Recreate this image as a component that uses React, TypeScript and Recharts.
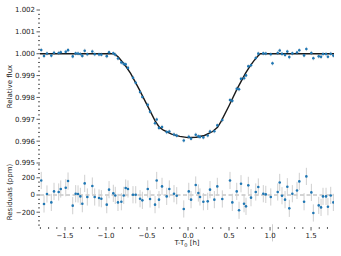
import React from 'react';
import {
  ComposedChart,
  Scatter,
  Line,
  XAxis,
  YAxis,
  ErrorBar,
  ReferenceLine,
  ReferenceArea,
} from 'recharts';

// ---- data ----
const times = [-1.79, -1.756, -1.72, -1.667, -1.634, -1.577, -1.552, -1.491, -1.463, -1.406, -1.37, -1.341, -1.313, -1.289, -1.26, -1.228, -1.167, -1.138, -1.085, -1.057, -0.991, -0.963, -0.911, -0.887, -0.854, -0.813, -0.784, -0.76, -0.732, -0.671, -0.638, -0.585, -0.557, -0.491, -0.463, -0.402, -0.382, -0.354, -0.317, -0.26, -0.228, -0.171, -0.138, -0.052, 0.009, 0.037, 0.094, 0.126, 0.146, 0.187, 0.24, 0.268, 0.321, 0.357, 0.418, 0.512, 0.54, 0.594, 0.622, 0.646, 0.683, 0.707, 0.735, 0.768, 0.826, 0.857, 0.918, 0.948, 1.009, 1.03, 1.094, 1.118, 1.146, 1.183, 1.211, 1.235, 1.272, 1.329, 1.357, 1.415, 1.443, 1.504, 1.528, 1.594, 1.622, 1.646, 1.683, 1.706, 1.74, 1.772];

const fluxes = [1.000169, 0.999896, 1.000012, 0.999914, 1.000042, 1.000035, 1.00007, 1.000085, 1.000162, 0.999876, 1.000015, 1.000012, 0.999984, 0.999899, 1.000135, 0.999977, 1.000104, 0.999977, 0.999965, 0.999957, 0.999888, 1.000062,
  1.000019, 0.999955, 0.999784, 0.999602, 0.999535, 0.999511, 0.99935, 0.998903, 0.998673, 0.998247, 0.998018, 0.99766, 0.997344, 0.996818, 0.996989, 0.996606, 0.99665, 0.996414, 0.99644, 0.996305, 0.996252, 0.996028, 0.996202, 0.996113, 0.996295, 0.996223, 0.996194, 0.996172, 0.996256, 0.996442, 0.996456, 0.99672, 0.996964, 0.997879, 0.997844, 0.998392, 0.998372, 0.998851, 0.998879, 0.999008, 0.999422, 0.999469, 0.999805, 1.000003,
  1.000015, 1.000007, 0.999977, 0.99956, 1.000035, 1.000146, 0.999992, 0.999946, 1.000096, 0.999845, 1.000015, 1.000053, 1.000158, 0.999922, 1.000216, 1.00003, 0.999791, 0.999879, 0.999856, 0.999984, 0.999984, 0.999864, 0.999995, 0.999914];

const residuals = [169, -104, 12, -86, 42, 35, 70, 85, 162, -124, 15, 12, -16, -101, 135, -23, 104, -23, -35, -43, -112, 62, 19, -5, -86, -78, -5, 81, 70, 3, 3, -43, -62, 70, -46, -112, 169, -54, 100, -16, 70, 15, -8, -162, 42, -54, 116, 23, -23, -78, -74, 62, -54, 100, -46, 169, -86, 42, -178, 131, -101, -132, 112, -31, 35, 93, 15, 7, -23, -440, 35, 146, -8, -54, 96, -155, 15, 53, 158, -78, 216, 30, -209, -121, -144, -16, -16, -136, -5, -86];

const fluxErr = 0.0001;
const residErr = 100;

const modelTimes = [-1.805, -0.9, -0.85, -0.8, -0.75, -0.7, -0.6, -0.5, -0.4, -0.35, -0.3, -0.2, -0.1, 0, 0.1, 0.2, 0.3, 0.36, 0.4, 0.5, 0.6, 0.7, 0.75, 0.8, 0.85, 0.88, 1.78];
const modelFlux = [1, 1, 0.99985, 0.99962, 0.99938, 0.9991, 0.9984, 0.99766, 0.99692, 0.99664, 0.9965, 0.99632, 0.99622, 0.99616, 0.99618, 0.99626, 0.99644, 0.99663, 0.99688, 0.99762, 0.9984, 0.9991, 0.9994, 0.99966, 0.99988, 1, 1];

const xMajor = [-1.5, -1.0, -0.5, 0.0, 0.5, 1.0, 1.5];
const fluxMajor = [0.995, 0.996, 0.997, 0.998, 0.999, 1.0, 1.001, 1.002];
const residMajor = [-200, 0, 200];

// ---- derived tables ----
const fluxData = times.map((t, i) => ({ t, flux: fluxes[i], err: fluxErr }));
const residData = times.map((t, i) => ({ t, res: residuals[i], err: residErr }));
const modelData = modelTimes.map((t, i) => ({ t, flux: modelFlux[i] }));

const xTicks: number[] = [];
for (let i = -18; i <= 17; i++) xTicks.push(i / 10);
const fluxTicks: number[] = [];
for (let i = 0; i <= 35; i++) fluxTicks.push(Math.round(9950 + 2 * i) / 10000);
const residTicks: number[] = [];
for (let i = -7; i <= 7; i++) residTicks.push(i * 50);

const FONT = '"DejaVu Sans", Verdana, sans-serif';
const BLUE = '#1f77b4';
const X_DOMAIN: [number, number] = [-1.805, 1.78];

const fmtMinus = (s: string) => s.replace('-', '\u2212');
const isMajor = (majors: number[], v: number) => majors.some((m) => Math.abs(m - v) < 1e-7);

const makeLeftTick = (majors: number[], fmt: (v: number) => string) => (props: any) => {
  const { x, y, payload } = props;
  const v = payload.value;
  const major = isMajor(majors, v);
  return (
    <g>
      <line x1={x - (major ? 3.5 : 2)} x2={x} y1={y} y2={y} stroke="#333" strokeWidth={0.8} />
      {major && (
        <text x={x - 5} y={y} dy="0.35em" textAnchor="end" fontSize={7} fontFamily={FONT} fill="#222">
          {fmt(v)}
        </text>
      )}
    </g>
  );
};

const BottomTick = (props: any) => {
  const { x, y, payload } = props;
  const v = payload.value;
  const major = isMajor(xMajor, v);
  return (
    <g>
      <line x1={x} x2={x} y1={y} y2={y + (major ? 3.5 : 2)} stroke="#333" strokeWidth={0.8} />
      {major && (
        <text x={x} y={y + 11} textAnchor="middle" fontSize={7} fontFamily={FONT} fill="#222">
          {fmtMinus(v.toFixed(1))}
        </text>
      )}
    </g>
  );
};

const Dot = (p: any) => <circle cx={p.cx} cy={p.cy} r={1.3} fill={BLUE} />;

const FluxTick = makeLeftTick(fluxMajor, (v) => v.toFixed(3));
const ResidTick = makeLeftTick(residMajor, (v) => fmtMinus(String(v)));

const fluxLabel = () => (
  <text x={10} y={86.5} transform="rotate(-90 10 86.5)" textAnchor="middle" dy="0.35em" fontSize={7} fontFamily={FONT} fill="#222">
    Relative flux
  </text>
);
const residLabel = () => (
  <text x={10} y={29} transform="rotate(-90 10 29)" textAnchor="middle" dy="0.35em" fontSize={7} fontFamily={FONT} fill="#222">
    Residuals (ppm)
  </text>
);
const xLabel = () => (
  <text x={187} y={82} textAnchor="middle" fontSize={7} fontFamily={FONT} fill="#222">
    T-T<tspan fontSize={5} dy={1.5}>0</tspan>
    <tspan dy={-1.5}> [h]</tspan>
  </text>
);

export default function App() {
  return (
    <div style={{ position: 'absolute', left: 0, top: 0, width: 341, height: 256, background: '#fff' }}>
      <div style={{ position: 'absolute', left: 0, top: 0 }}>
        <ComposedChart width={341} height={171} margin={{ top: 10, right: 7, bottom: 8, left: 0 }}>
          <XAxis dataKey="t" type="number" domain={X_DOMAIN} allowDataOverflow hide />
          <YAxis
            dataKey="flux"
            type="number"
            domain={[0.995, 1.002]}
            allowDataOverflow
            ticks={fluxTicks}
            interval={0}
            width={40}
            tickSize={0}
            tickMargin={0}
            tickLine={false}
            axisLine={false}
            tick={FluxTick}
            label={fluxLabel}
          />
          <ReferenceArea fill="none" stroke="#444" strokeWidth={0.9} fillOpacity={0} />
          <Scatter data={fluxData} dataKey="flux" shape={Dot} isAnimationActive={false}>
            <ErrorBar dataKey="err" direction="y" width={0} stroke="#cfcfcf" strokeWidth={1} />
          </Scatter>
          <Line data={modelData} dataKey="flux" type="linear" stroke="#1a1a1a" strokeWidth={1.4} dot={false} isAnimationActive={false} />
        </ComposedChart>
      </div>
      <div style={{ position: 'absolute', left: 0, top: 163 }}>
        <ComposedChart width={341} height={93} margin={{ top: 0, right: 7, bottom: 0, left: 0 }}>
          <XAxis
            dataKey="t"
            type="number"
            domain={X_DOMAIN}
            allowDataOverflow
            ticks={xTicks}
            interval={0}
            height={29}
            tickSize={0}
            tickMargin={0}
            tickLine={false}
            axisLine={false}
            tick={BottomTick}
            label={xLabel}
          />
          <YAxis
            dataKey="res"
            type="number"
            domain={[-372, 372]}
            allowDataOverflow
            ticks={residTicks}
            interval={0}
            width={40}
            tickSize={0}
            tickMargin={0}
            tickLine={false}
            axisLine={false}
            tick={ResidTick}
            label={residLabel}
          />
          <ReferenceArea fill="none" stroke="#444" strokeWidth={0.9} fillOpacity={0} />
          <ReferenceLine y={0} stroke="#a8a8a8" strokeWidth={1} strokeDasharray="4 2.5" />
          <Scatter data={residData} dataKey="res" shape={Dot} isAnimationActive={false}>
            <ErrorBar dataKey="err" direction="y" width={0} stroke="#cfcfcf" strokeWidth={1} />
          </Scatter>
        </ComposedChart>
      </div>
    </div>
  );
}
